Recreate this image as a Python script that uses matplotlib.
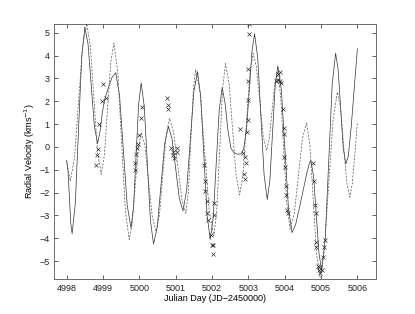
import matplotlib
matplotlib.use('Agg')
import matplotlib.pyplot as plt

plt.rcParams['font.family'] = ['Liberation Sans', 'DejaVu Sans']

# model curve (solid)
t_solid = [4998.000, 4998.038, 4998.075, 4998.113, 4998.150,
           4998.238, 4998.325, 4998.413, 4998.500,
           4998.588, 4998.675, 4998.763, 4998.850,
           4998.920, 4998.980, 4999.050, 4999.150, 4999.250, 4999.350,
           4999.455, 4999.560, 4999.665, 4999.770,
           4999.840, 4999.910, 4999.980, 5000.050,
           5000.135, 5000.220, 5000.305, 5000.390,
           5000.493, 5000.595, 5000.698, 5000.800,
           5000.900, 5001.000, 5001.100, 5001.200,
           5001.300, 5001.400, 5001.500, 5001.600,
           5001.688, 5001.775, 5001.863, 5001.950,
           5002.033, 5002.115, 5002.198, 5002.280,
           5002.360, 5002.440, 5002.520, 5002.600, 5002.700, 5002.800, 5002.870,
           5002.950, 5003.030, 5003.100, 5003.170,
           5003.258, 5003.345, 5003.433, 5003.520,
           5003.593, 5003.665, 5003.738, 5003.810,
           5003.908, 5004.005, 5004.103, 5004.200,
           5004.300, 5004.400, 5004.500, 5004.600, 5004.680, 5004.720,
           5004.795, 5004.870, 5004.945, 5005.020,
           5005.115, 5005.210, 5005.305, 5005.400,
           5005.470, 5005.540, 5005.610, 5005.680,
           5005.750, 5005.830, 5005.910, 5006.000]
v_solid = [-0.60, -1.07, -2.20, -3.33, -3.80,
           -2.47, 0.73, 3.92, 5.25,
           4.50, 2.70, 0.90, 0.15,
           0.70, 1.50, 2.10, 2.60, 3.05, 3.25,
           2.25, -0.15, -2.55, -3.55,
           -2.62, -0.38, 1.87, 2.80,
           1.77, -0.73, -3.22, -4.25,
           -3.50, -1.68, 0.15, 0.90,
           0.36, -0.95, -2.26, -2.80,
           -1.91, 0.25, 2.41, 3.30,
           2.22, -0.38, -2.97, -4.05,
           -3.08, -0.73, 1.63, 2.60,
           1.90, 0.70, -0.05, -0.25, -0.32, -0.30, -0.10,
           0.80, 2.60, 4.20, 4.95,
           3.89, 1.33, -1.24, -2.30,
           -1.44, 0.63, 2.69, 3.55,
           2.48, -0.10, -2.68, -3.75,
           -3.40, -2.70, -1.95, -1.20, -0.70, -0.60,
           -1.30, -3.00, -4.70, -5.40,
           -4.01, -0.65, 2.71, 4.10,
           3.39, 1.68, -0.04, -0.75,
           -0.40, 0.90, 2.50, 4.30]

# second model (dashed)
t_dash = [4998.000, 4998.050, 4998.100,
          4998.213, 4998.325, 4998.438, 4998.550,
          4998.650, 4998.750, 4998.850, 4998.950,
          4999.038, 4999.125, 4999.213, 4999.300,
          4999.405, 4999.510, 4999.615, 4999.720,
          4999.803, 4999.885, 4999.968, 5000.050,
          5000.153, 5000.255, 5000.358, 5000.460,
          5000.553, 5000.645, 5000.738, 5000.830,
          5000.943, 5001.055, 5001.168, 5001.280,
          5001.348, 5001.415, 5001.483, 5001.550,
          5001.675, 5001.800, 5001.925, 5002.050,
          5002.130, 5002.210, 5002.290, 5002.370,
          5002.468, 5002.565, 5002.663, 5002.760,
          5002.853, 5002.945, 5003.038, 5003.130,
          5003.223, 5003.315, 5003.408, 5003.500,
          5003.575, 5003.650, 5003.725, 5003.800,
          5003.888, 5003.975, 5004.063, 5004.150,
          5004.263, 5004.375, 5004.488, 5004.600,
          5004.693, 5004.785, 5004.878, 5004.970,
          5005.090, 5005.210, 5005.330, 5005.450,
          5005.535, 5005.620, 5005.705, 5005.790,
          5005.860, 5005.930, 5006.000]
v_dash = [-0.60, -1.05, -1.50,
          -0.49, 1.95, 4.39, 5.40,
          4.43, 2.10, -0.23, -1.20,
          -0.36, 1.68, 3.71, 4.55,
          3.29, 0.25, -2.79, -4.05,
          -3.37, -1.73, -0.08, 0.60,
          0.07, -1.55, -3.07, -3.70,
          -2.98, -1.23, 0.53, 1.25,
          0.64, -0.83, -2.29, -2.90,
          -1.98, 0.25, 2.48, 3.40,
          2.33, -0.25, -2.83, -3.90,
          -2.79, -0.13, 2.54, 3.65,
          2.81, 0.78, -1.26, -2.10,
          -1.19, 1.00, 3.19, 4.10,
          3.48, 1.98, 0.47, -0.15,
          0.35, 1.55, 2.75, 3.25,
          2.25, -0.18, -2.60, -3.60,
          -2.92, -1.28, 0.37, 1.05,
          0.06, -2.33, -4.71, -5.70,
          -4.51, -1.65, 1.21, 2.40,
          1.73, 0.10, -1.53, -2.20,
          -1.60, -0.30, 1.10]

# observations
t_obs = [4998.82, 4998.83, 4998.85, 4998.90, 4998.96, 4999.00, 4999.08,
         4999.88, 4999.89, 4999.90, 4999.94, 4999.95, 4999.99, 5000.04, 5000.08,
         5000.76, 5000.78, 5000.78, 5000.88, 5000.93, 5000.93, 5000.94, 5001.03, 5001.03,
         5001.79, 5001.80, 5001.82, 5001.86, 5001.87, 5001.89, 5001.97, 5002.01,
         5002.04, 5002.02, 5002.06, 5002.06,
         5002.78, 5002.85, 5002.90, 5002.93, 5002.87, 5002.90, 5002.97, 5002.98,
         5003.00, 5003.00, 5003.00, 5003.03, 5003.02,
         5003.77, 5003.82, 5003.87, 5003.82, 5003.87, 5003.90, 5003.95, 5003.97,
         5003.97, 5003.99, 5004.01, 5004.04, 5004.04, 5004.07, 5004.08,
         5004.78, 5004.81, 5004.83, 5004.85, 5004.87, 5004.87, 5004.92, 5004.93,
         5004.94, 5004.96, 5005.03, 5005.06, 5005.09, 5005.12]
v_obs = [-0.80, -0.35, -0.10, 1.02, 2.03, 2.76, 2.15,
         -0.70, -1.00, -0.30, -0.05, 0.15, 0.54, 1.27, 1.75,
         2.12, 1.85, 1.68, -0.05, -0.20, -0.35, -0.50, -0.05, -0.20,
         -0.78, -1.50, -1.95, -2.38, -2.90, -3.20, -3.85, -4.30,
         -4.30, -4.70, -2.46, -3.00,
         0.79, -0.26, -0.45, -0.70, -1.17, -1.40, 0.64, 1.20,
         2.07, 2.88, 3.42, 4.93, 5.40,
         2.90, 2.95, 2.90, 3.20, 3.30, 2.80, 1.64, 0.83,
         0.55, -0.44, -0.88, -1.73, -2.10, -2.75, -2.90,
         -0.70, -1.50, -2.53, -2.90, -4.14, -4.40, -5.20, -5.25,
         -5.40, -5.50, -5.40, -4.80, -4.40, -4.07]

xticks = [4998, 4999, 5000, 5001, 5002, 5003, 5004, 5005, 5006]
yticks = [-5, -4, -3, -2, -1, 0, 1, 2, 3, 4, 5]

fig = plt.figure(figsize=(4.15, 3.14), dpi=100)
ax = fig.add_axes([0.13, 0.11, 0.775, 0.815])

ax.plot(t_solid, v_solid, '-', color='#333333', linewidth=0.5)
ax.plot(t_dash, v_dash, '--', color='#555555', linewidth=0.5, dashes=(3, 2))
ax.plot(t_obs, v_obs, 'x', color='#222222', markersize=2.2, markeredgewidth=0.45)

ax.set_xlim(4997.65, 5006.5)
ax.set_ylim(-5.8, 5.4)
ax.set_xticks(xticks)
ax.set_yticks(yticks)
ax.tick_params(direction='in', top=True, right=True, labelsize=6.5,
               length=3, width=0.5, pad=3, colors='#222222')
for s in ax.spines.values():
    s.set_linewidth(0.6)
    s.set_color('#555555')

ax.set_xlabel('Julian Day (JD\u22122450000)', fontsize=6.5, labelpad=1)
ax.set_ylabel('Radial Velocity (kms$^{-1}$)', fontsize=6.5, labelpad=2)

fig.savefig('out.png', dpi=100)
